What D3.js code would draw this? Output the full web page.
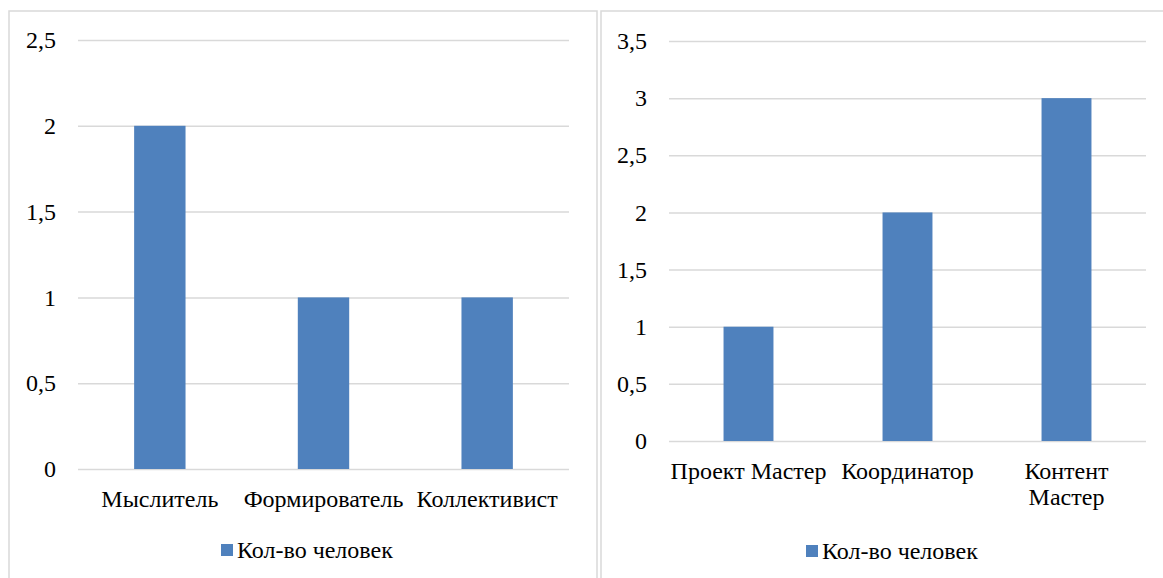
<!DOCTYPE html>
<html>
<head>
<meta charset="utf-8">
<script src="https://cdn.jsdelivr.net/npm/d3@7"></script>
</head>
<body style="margin:0">
<svg id="chart" width="1163" height="578" font-family="Liberation Serif"></svg>
<script>
// Team roles, first chart
const leftCategories = ["Мыслитель", "Формирователь", "Коллективист"];
const leftValues = [2, 1, 1];
const leftTicks = [0, 0.5, 1, 1.5, 2, 2.5];

// Team roles, second chart
const rightCategories = ["Проект Мастер", "Координатор", "Контент Мастер"];
const rightValues = [1, 2, 3];
const rightTicks = [0, 0.5, 1, 1.5, 2, 2.5, 3, 3.5];

const seriesName = "Кол-во человек";

const BAR = "#4f81bd";
const GRID = "#d9d9d9";
const FONT = "24px";
const FAMILY = '"Liberation Serif"';
const fmt = v => String(v).replace(".", ",");

const svg = d3.select("#chart");

function styleText(sel) {
  return sel.attr("font-family", "Liberation Serif")
    .style("font-family", FAMILY).style("font-size", FONT).style("fill", "#000");
}

function drawPanel(cfg) {
  const g = svg.append("g");

  // frame
  g.append("rect")
    .attr("x", cfg.frame[0]).attr("y", cfg.frame[1])
    .attr("width", cfg.frame[2]).attr("height", cfg.frame[3])
    .attr("fill", "none").attr("stroke", GRID).attr("stroke-width", 1.5);

  const x = d3.scaleBand().domain(cfg.categories).range([cfg.x0, cfg.x1]).padding(0);
  const y = d3.scaleLinear().domain([0, d3.max(cfg.ticks)]).range([cfg.y0, cfg.y1]);

  // gridlines + value labels
  const yAxis = d3.axisLeft(y).tickValues(cfg.ticks).tickFormat(fmt)
    .tickSize(-(cfg.x1 - cfg.x0)).tickPadding(22);
  const ya = g.append("g").attr("transform", `translate(${cfg.x0},0)`).call(yAxis)
    .attr("font-family", null).attr("font-size", null);
  ya.select(".domain").remove();
  ya.selectAll(".tick line").attr("stroke", GRID).attr("stroke-width", 1.5);
  styleText(ya.selectAll(".tick text"));

  // bars
  const bw = x.bandwidth() * 0.314;
  g.selectAll("rect.bar").data(cfg.values).join("rect")
    .attr("class", "bar")
    .attr("x", (d, i) => x(cfg.categories[i]) + (x.bandwidth() - bw) / 2)
    .attr("y", d => y(d))
    .attr("width", bw)
    .attr("height", d => y(0) - y(d))
    .attr("fill", BAR);

  // category labels, wrapped onto two lines when wider than the band
  const xAxis = d3.axisBottom(x).tickSize(0).tickPadding(0);
  const xa = g.append("g").attr("transform", `translate(0,${cfg.y0})`).call(xAxis)
    .attr("font-family", null).attr("font-size", null);
  xa.select(".domain").remove();
  styleText(xa.selectAll(".tick text"))
    .attr("dy", null).attr("y", 38)
    .each(function (d) {
      const t = d3.select(this);
      if (this.getComputedTextLength() > x.bandwidth() - 2) {
        const words = d.split(" ");
        t.text(null);
        words.forEach((w, k) => {
          t.append("tspan").attr("x", 0).attr("y", 38 + k * 26).text(w);
        });
      }
    });

  // legend
  const lg = g.append("g").attr("transform", `translate(${cfg.legend[0]},${cfg.legend[1]})`);
  lg.append("rect").attr("x", 0).attr("y", -6).attr("width", 12).attr("height", 12).attr("fill", BAR);
  styleText(lg.append("text").attr("x", 16).attr("y", 0).attr("dy", "0.33em")).text(seriesName);
}

drawPanel({
  frame: [9, 11, 588, 620],
  categories: leftCategories, values: leftValues, ticks: leftTicks,
  x0: 78, x1: 569, y0: 469, y1: 40,
  legend: [221, 550]
});

drawPanel({
  frame: [601, 11, 600, 620],
  categories: rightCategories, values: rightValues, ticks: rightTicks,
  x0: 669, x1: 1146, y0: 441, y1: 41,
  legend: [806, 551]
});
</script>
</body>
</html>
